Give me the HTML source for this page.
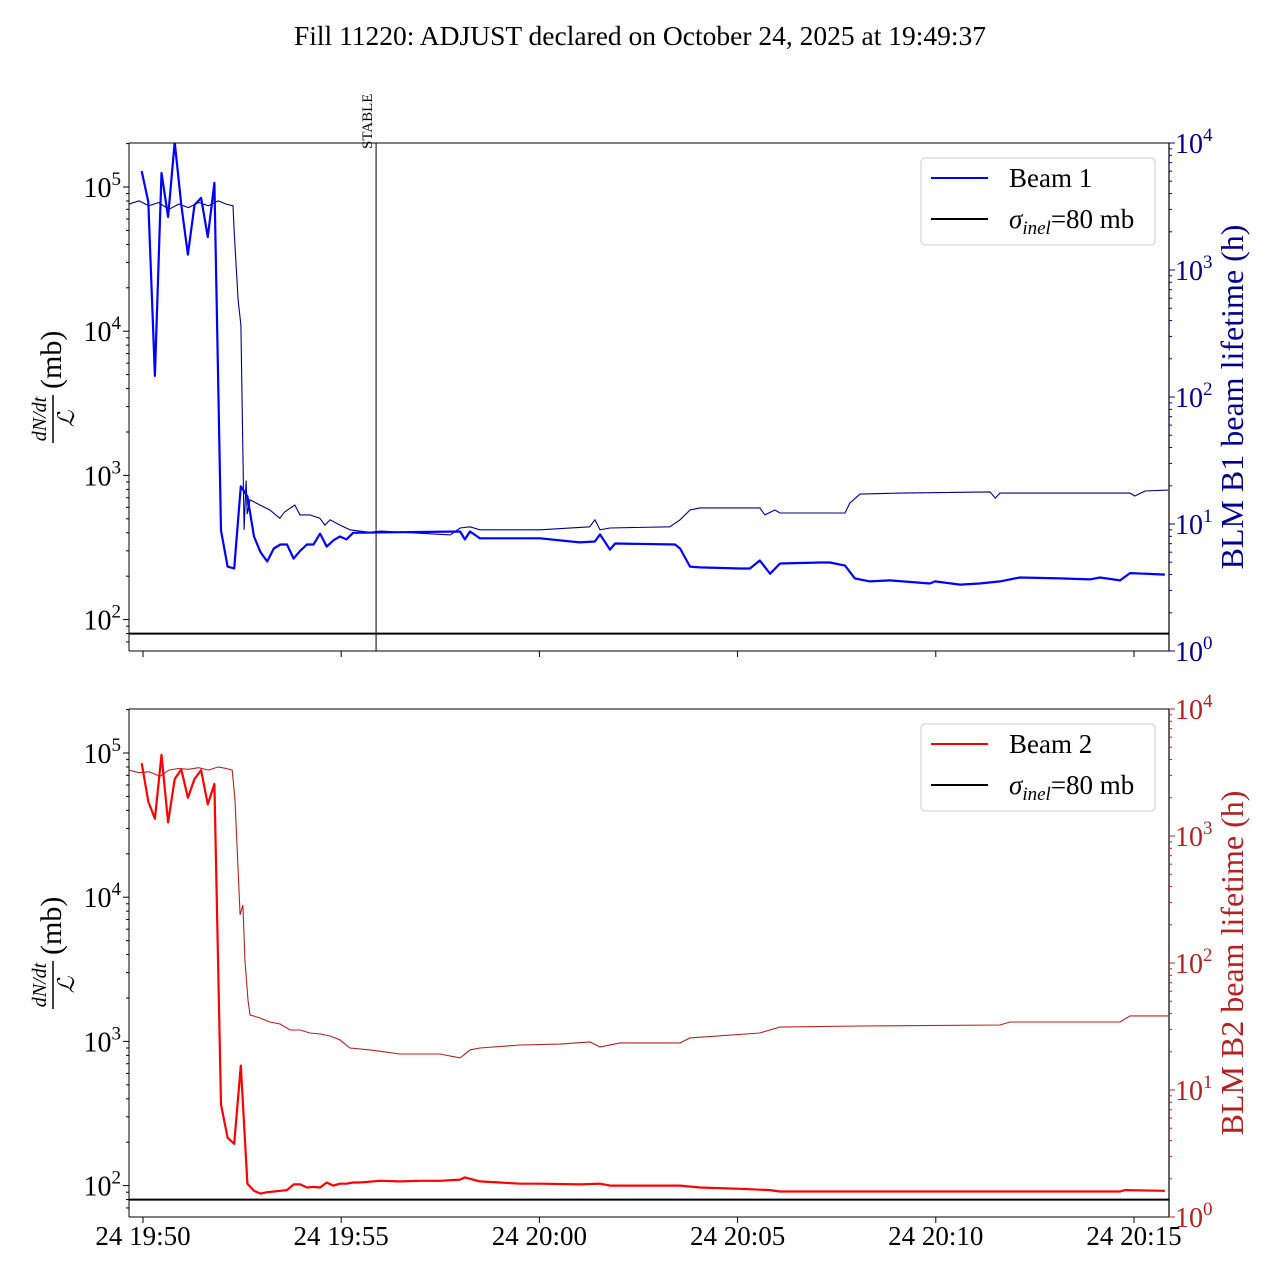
<!DOCTYPE html>
<html><head><meta charset="utf-8"><style>
body{margin:0;background:#fff}
svg text{font-family:"Liberation Serif","DejaVu Serif",serif}
</style></head><body>
<svg id="chart" width="1280" height="1280" xmlns="http://www.w3.org/2000/svg">
<rect width="1280" height="1280" fill="#fff"/>
<text x="640" y="45" font-size="27.5" text-anchor="middle">Fill 11220: ADJUST declared on October 24, 2025 at 19:49:37</text>
</svg>
<script>
// time in minutes relative to 19:50
const xTickLabels = ["24 19:50","24 19:55","24 20:00","24 20:05","24 20:10","24 20:15"];
const xTickMinutes = [0,5,10,15,20,25];
const stableMinute = 5.88;
const sigmaInel = 80;
const b1Early = [1.29e5,7.9e4,4.9e3,1.25e5,6.2e4,2.05e5,7.5e4,3.4e4,7.5e4,8.4e4,4.5e4,1.07e5,415,233,226,840,715,377,293,253,311,332,332,265,300,332,332,395,321,354,377,360,400];
const b1LateT = [8.0,8.12,8.25,8.5,10.02,10.52,11.02,11.40,11.53,11.78,11.91,13.42,13.55,13.80,14.05,15.06,15.31,15.56,15.82,16.07,17.08,17.33,17.71,17.96,18.34,18.84,19.85,19.98,20.61,21.11,21.62,22.12,23.13,23.89,24.14,24.65,24.90,25.78];
const b1LateV = [408,360,408,366,366,354,343,348,390,306,337,332,311,233,230,226,226,257,208,245,249,249,237,193,184,187,178,184,175,178,184,196,193,190,196,187,210,205];
const b2Early = [8.5e4,4.6e4,3.5e4,9.7e4,3.3e4,6.6e4,7.7e4,4.9e4,6.6e4,7.6e4,4.4e4,6.1e4,365,215,195,680,103,92,88,90,91,92,93,102,102,97,98,97,105,100,103,103,105];
const b2LateT = [5.47,5.98,6.48,6.99,7.49,8.0,8.12,8.5,9.0,9.51,10.02,11.02,11.53,11.78,13.55,14.05,15.06,15.82,16.07,17.08,21.62,24.65,24.77,25.78];
const b2LateV = [105,108,107,108,108,110,114,107,105,103,103,102,103,100,100,97,95,93,91,91,91,91,93,92];
const lt1T = [-0.35,-0.1,0.15,0.4,0.65,0.9,1.15,1.4,1.65,1.9,2.1,2.27,2.30,2.40,2.47,2.55,2.60,2.63,2.70,2.95,3.2,3.45,3.57,3.83,3.96,4.21,4.46,4.59,4.72,4.97,5.22,5.72,6.0,7.75,8.0,8.25,8.5,10.02,11.27,11.40,11.53,11.78,13.29,13.55,13.80,14.05,15.56,15.69,15.94,16.07,17.71,17.83,18.09,19.1,21.37,21.5,21.62,24.90,25.02,25.28,25.86];
const lt1V = [3300,3500,3200,3400,3000,3300,3100,3400,3200,3500,3300,3200,2000,580,369,9.0,22,12,15.5,14.1,12.9,11.1,12.4,14.1,11.8,11.8,11.1,9.8,10.8,9.8,9.0,8.6,8.8,8.2,9.3,9.5,9.0,9.0,9.5,10.8,9.0,9.3,9.5,10.8,12.9,13.4,13.4,11.8,12.9,12.2,12.2,14.6,17.2,17.5,17.9,16.0,17.5,17.5,16.6,18.2,18.5];
const lt2T = [-0.35,-0.1,0.15,0.43,0.65,0.9,1.15,1.4,1.65,1.9,2.1,2.25,2.32,2.40,2.45,2.52,2.57,2.65,2.70,2.95,3.20,3.46,3.71,3.96,4.21,4.47,4.72,4.97,5.22,5.73,6.48,7.49,8.0,8.25,8.5,9.51,10.52,11.28,11.53,12.03,13.55,13.80,15.56,16.07,18.09,21.62,21.87,24.65,24.90,25.86];
const lt2V = [3300,3150,3200,2950,3300,3400,3350,3450,3300,3500,3400,3300,1920,540,239,286,106,51,39,36.9,34.3,33.1,29.7,29.7,28.1,27.6,26.6,24.8,21.4,20.7,19.2,19.2,17.9,20.7,21.4,22.6,23.0,23.9,21.8,23.5,23.5,25.7,28.1,31.3,31.9,32.5,34.3,34.3,38.3,38.3];

const NS="http://www.w3.org/2000/svg";
const svg=document.getElementById('chart');
function mk(tag,attrs,parent){const e=document.createElementNS(NS,tag);for(const k in attrs)e.setAttribute(k,attrs[k]);(parent||svg).appendChild(e);return e;}
const X0=129,X1=1169,tMin=-0.353,tMax=25.883;
function xs(t){return X0+(t-tMin)/(tMax-tMin)*(X1-X0);}
function panel(top){
  const bot=top+508;
  return {top,bot,
    yl:v=>top+44-(Math.log10(v)-5)*144.2,
    yr:v=>bot-Math.log10(v)*127};
}
const early=(i)=>-0.033+i/6;
function pathOf(ts,vs,f){return ts.map((t,i)=>(i?'L':'M')+xs(t).toFixed(1)+','+f(vs[i]).toFixed(1)).join('');}

function drawPanel(P,cfg){
  const g=mk('g',{});
  
  
  const cp=mk('clipPath',{id:cfg.name+'-clip'},g);
  mk('rect',{x:X0,y:P.top,width:X1-X0,height:508},cp);
  const plot=mk('g',{'clip-path':'url(#'+cfg.name+'-clip)'},g);
  const lt=mk('path',{d:pathOf(cfg.ltT,cfg.ltV,P.yr),fill:'none',stroke:cfg.ltColor,'stroke-width':1.1},plot);
  
  
  const sl=mk('line',{x1:X0,x2:X1,y1:P.yl(sigmaInel),y2:P.yl(sigmaInel),stroke:'#000','stroke-width':2},plot);
  
  
  const ts=cfg.early.map((v,i)=>early(i)).concat(cfg.lateT);
  const vs=cfg.early.concat(cfg.lateV);
  const ln=mk('path',{d:pathOf(ts,vs,P.yl),fill:'none',stroke:cfg.color,'stroke-width':2.2,'stroke-linejoin':'round'},plot);
  
  
  if(cfg.stable){
    const sx=xs(stableMinute);
    const s=mk('line',{x1:sx,x2:sx,y1:P.top,y2:P.bot,stroke:'#000','stroke-width':1},g);
    
    
    const st=mk('text',{x:0,y:0,'font-size':15,transform:`translate(${sx-4},${P.top+6}) rotate(-90)`},g);
    st.textContent='STABLE';
    
    
  }
  mk('line',{x1:X0,x2:X1,y1:P.top,y2:P.top,stroke:'#000'},g);
  mk('line',{x1:X0,x2:X1,y1:P.bot,y2:P.bot,stroke:'#000'},g);
  mk('line',{x1:X0,x2:X0,y1:P.top,y2:P.bot,stroke:'#000'},g);
  mk('line',{x1:X1,x2:X1,y1:P.top,y2:P.bot,stroke:'#000','stroke-width':1.2},g);
  for(let e=1;e<=5;e++){for(let m=1;m<10;m++){const v=m*Math.pow(10,e);const y=P.yl(v);if(y<P.top-0.5||y>P.bot+0.5)continue;
    mk('line',{x1:X0,x2:X0-(m==1?6:3),y1:y,y2:y,stroke:'#000'},g);
    if(m==1&&e>=2){const t=mk('text',{x:X0-8,y:y+10,'font-size':28,'text-anchor':'end'},g);t.innerHTML='10<tspan dy="-12" font-size="19">'+e+'</tspan>';
      
      }}}
  for(let e=0;e<=4;e++){for(let m=1;m<10;m++){const v=m*Math.pow(10,e);const y=P.yr(v);if(y<P.top-0.5)continue;
    mk('line',{x1:X1,x2:X1+(m==1?6:3),y1:y,y2:y,stroke:cfg.ltColor},g);
    if(m==1){const t=mk('text',{x:X1+6,y:y+10,'font-size':28,fill:cfg.ltColor},g);t.innerHTML='10<tspan dy="-12" font-size="19">'+e+'</tspan>';
      
      }}}
  xTickMinutes.forEach((m,i)=>{const x=xs(m);mk('line',{x1:x,x2:x,y1:P.bot,y2:P.bot+6,stroke:'#000'},g);
    if(cfg.xlabels){const t=mk('text',{x:x,y:P.bot+28,'font-size':27,'text-anchor':'middle'},g);t.textContent=xTickLabels[i];
      
      }});
  const cy=(P.top+P.bot)/2;
  const ll=mk('g',{transform:`translate(64,${cy}) rotate(-90)`},g);
  
  
  const num=mk('text',{x:-22,y:-18,'font-size':20,'font-style':'italic','text-anchor':'middle'},ll);num.textContent='dN/dt';
  mk('line',{x1:-46,x2:2,y1:-11,y2:-11,stroke:'#000','stroke-width':1.5},ll);
  const den=mk('text',{x:-22,y:10,'font-size':23,'font-style':'italic','text-anchor':'middle'},ll);den.textContent='ℒ';
  const mb=mk('text',{x:8,y:-3,'font-size':30},ll);mb.textContent='(mb)';
  const rl=mk('text',{transform:`translate(1243,${cy}) rotate(-90)`,'font-size':32,'text-anchor':'middle',fill:cfg.ltColor},g);
  rl.textContent=cfg.rtitle;
  
  
  const lg=mk('g',{},g);
  
  
  const ly=P.top+15;
  mk('rect',{x:921,y:ly,width:234,height:87,rx:4,fill:'#fff','fill-opacity':0.8,stroke:'#ccc'},lg);
  mk('line',{x1:931,x2:988,y1:ly+20,y2:ly+20,stroke:cfg.color,'stroke-width':2},lg);
  const l1=mk('text',{x:1009,y:ly+29,'font-size':27},lg);l1.textContent=cfg.beam;
  
  
  mk('line',{x1:931,x2:988,y1:ly+61,y2:ly+61,stroke:'#000','stroke-width':2},lg);
  const l2=mk('text',{x:1009,y:ly+70,'font-size':27},lg);
  l2.innerHTML='<tspan font-style="italic">σ</tspan><tspan font-style="italic" font-size="19" dy="6">inel</tspan><tspan dy="-6">=80 mb</tspan>';
  
  
}
drawPanel(panel(143),{name:'beam1-panel',color:'#0000ff',ltColor:'#00008b',early:b1Early,lateT:b1LateT,lateV:b1LateV,ltT:lt1T,ltV:lt1V,stable:true,xlabels:false,rtitle:'BLM B1 beam lifetime (h)',beam:'Beam 1',lineName:'beam1-dndt-line',ltName:'beam1-lifetime-line'});
drawPanel(panel(709),{name:'beam2-panel',color:'#ff0000',ltColor:'#b22222',early:b2Early,lateT:b2LateT,lateV:b2LateV,ltT:lt2T,ltV:lt2V,stable:false,xlabels:true,rtitle:'BLM B2 beam lifetime (h)',beam:'Beam 2',lineName:'beam2-dndt-line',ltName:'beam2-lifetime-line'});
</script>
</body></html>
